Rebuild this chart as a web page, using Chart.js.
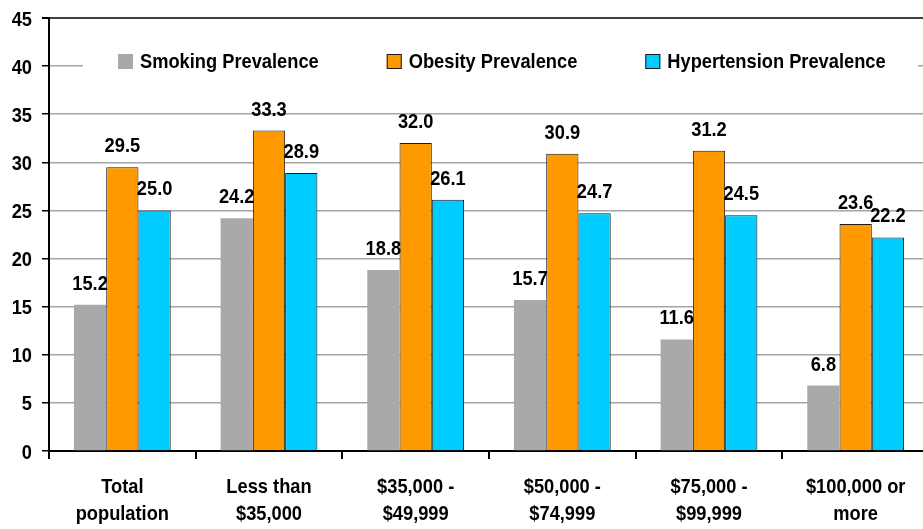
<!DOCTYPE html>
<html>
<head>
<meta charset="utf-8">
<script src="https://cdn.jsdelivr.net/npm/chart.js@4.4.0/dist/chart.umd.min.js"></script>
<style>
  html, body { margin: 0; padding: 0; background: #fff; overflow: hidden; width: 923px; height: 529px; }
  #c { display: block; }
</style>
</head>
<body>
<canvas id="c" width="929" height="529"></canvas>
<script>
const categories = [
  ["Total", "population"],
  ["Less than", "$35,000"],
  ["$35,000 -", "$49,999"],
  ["$50,000 -", "$74,999"],
  ["$75,000 -", "$99,999"],
  ["$100,000 or", "more"]
];
const seriesNames = ["Smoking Prevalence", "Obesity Prevalence", "Hypertension Prevalence"];
const smoking = [15.2, 24.2, 18.8, 15.7, 11.6, 6.8];
const obesity = [29.5, 33.3, 32.0, 30.9, 31.2, 23.6];
const hypertension = [25.0, 28.9, 26.1, 24.7, 24.5, 22.2];
const yTicks = [0, 5, 10, 15, 20, 25, 30, 35, 40, 45];

const FONT = '"Liberation Sans", Arial, Helvetica, sans-serif';
const TEXT_FONT = 'bold 21px ' + FONT;
const SX = 0.87; // horizontal condensing of the narrow bold face

function narrowText(ctx, text, x, y, align) {
  ctx.save();
  ctx.translate(x, y);
  ctx.scale(SX, 1);
  ctx.textAlign = align;
  ctx.textBaseline = 'alphabetic';
  ctx.fillText(text, 0, 0);
  ctx.restore();
}
function narrowWidth(ctx, text) {
  return ctx.measureText(text).width * SX;
}

const valueLabels = {
  id: 'valueLabels',
  afterDatasetsDraw(chart) {
    const ctx = chart.ctx;
    ctx.save();
    ctx.font = TEXT_FONT;
    ctx.fillStyle = '#000';
    chart.data.datasets.forEach((ds, i) => {
      const meta = chart.getDatasetMeta(i);
      meta.data.forEach((el, j) => {
        narrowText(ctx, ds.data[j].toFixed(1), el.x, el.y - 15, 'center');
      });
    });
    ctx.restore();
  }
};

const axisLabels = {
  id: 'axisLabels',
  afterDraw(chart) {
    const ctx = chart.ctx;
    const xs = chart.scales.x, ys = chart.scales.y;
    ctx.save();
    ctx.font = TEXT_FONT;
    ctx.fillStyle = '#000';
    ys.ticks.forEach((t) => {
      narrowText(ctx, String(t.value), ys.right - 17, ys.getPixelForValue(t.value) + 7.5, 'right');
    });
    chart.data.labels.forEach((lines, i) => {
      const cx = xs.getPixelForTick(i);
      lines.forEach((line, k) => {
        narrowText(ctx, line, cx, xs.top + 42 + k * 27, 'center');
      });
    });
    ctx.restore();
  }
};

const innerLegend = {
  id: 'innerLegend',
  beforeDatasetsDraw(chart, args, opts) {
    const ctx = chart.ctx;
    ctx.save();
    ctx.fillStyle = '#fff';
    ctx.fillRect(opts.boxLeft, opts.boxTop, opts.boxRight - opts.boxLeft, opts.boxBottom - opts.boxTop);
    ctx.font = TEXT_FONT;
    let x = opts.startX;
    chart.data.datasets.forEach((ds) => {
      ctx.fillStyle = ds.backgroundColor;
      ctx.fillRect(x, opts.markerTop, 15, 15);
      if (ds.borderWidth) {
        ctx.strokeStyle = ds.borderColor;
        ctx.lineWidth = 1;
        ctx.strokeRect(x + 0.5, opts.markerTop + 0.5, 14, 14);
      }
      ctx.fillStyle = '#000';
      narrowText(ctx, ds.label, x + 22, opts.baseline, 'left');
      x += 22 + narrowWidth(ctx, ds.label) + opts.gap;
    });
    ctx.restore();
  }
};

new Chart(document.getElementById('c'), {
  type: 'bar',
  data: {
    labels: categories,
    datasets: [
      { label: seriesNames[0], data: smoking, backgroundColor: '#A9A9A9', borderWidth: 0 },
      { label: seriesNames[1], data: obesity, backgroundColor: '#FF9900', borderColor: '#1a1a1a', borderWidth: 1 },
      { label: seriesNames[2], data: hypertension, backgroundColor: '#00CCFF', borderColor: '#1a1a1a', borderWidth: 1 }
    ]
  },
  options: {
    responsive: false,
    animation: false,
    devicePixelRatio: 1,
    layout: { padding: { top: 18, right: 0, left: 0, bottom: 0 } },
    datasets: { bar: { categoryPercentage: 0.66, barPercentage: 1.0 } },
    plugins: {
      legend: { display: false },
      tooltip: { enabled: false },
      innerLegend: { boxLeft: 83, boxRight: 918, boxTop: 40, boxBottom: 86, startX: 118, markerTop: 54, baseline: 68, gap: 68 }
    },
    scales: {
      x: {
        afterFit(s) { s.height = 78; },
        border: { color: '#000', width: 2 },
        grid: { offset: true, drawOnChartArea: false, drawTicks: true, tickLength: 8, tickColor: '#000', lineWidth: 2 },
        ticks: { display: false, autoSkip: false, maxRotation: 0 }
      },
      y: {
        min: 0,
        max: 45,
        afterFit(s) { s.width = 49; },
        afterBuildTicks(s) { s.ticks = yTicks.map(v => ({ value: v })); },
        border: { color: '#000', width: 2 },
        grid: {
          color: (c) => (c.tick && c.tick.value === 45 ? '#404040' : '#A6A6A6'),
          lineWidth: (c) => (c.tick && c.tick.value === 45 ? 2 : 1.5),
          drawTicks: true,
          tickLength: 7,
          tickColor: '#000'
        },
        ticks: { display: false }
      }
    }
  },
  plugins: [innerLegend, valueLabels, axisLabels]
});
</script>
</body>
</html>
